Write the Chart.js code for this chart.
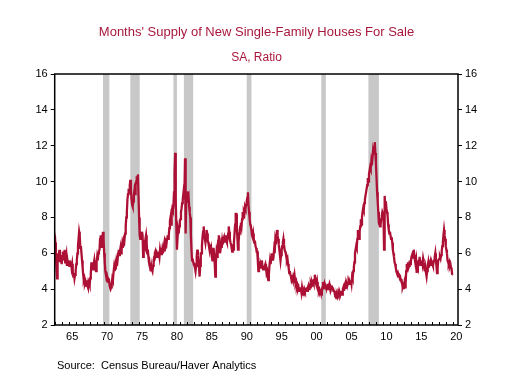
<!DOCTYPE html>
<html>
<head>
<meta charset="utf-8">
<script src="https://cdn.jsdelivr.net/npm/chart.js@4.4.0/dist/chart.umd.min.js"></script>
<style>
  html, body { margin: 0; padding: 0; background: #fff; }
  #wrap { width: 513px; height: 374px; }
</style>
</head>
<body>
<div id="wrap"><canvas id="supplyChart" width="513" height="374"></canvas></div>
<script>
// Months' supply, monthly from Jan 1963 (one row per year)
const startYear = 1963;
const supply = [
  6.4, 6.6, 6.0, 5.2, 4.6, 5.6, 6.0, 5.7, 6.2, 5.5, 5.9, 5.6,   // 1963
  5.4, 5.8, 6.1, 5.6, 5.9, 6.2, 5.5, 5.7, 5.9, 5.3, 5.6, 5.4,   // 1964
  5.5, 5.3, 5.6, 5.4, 5.5, 5.2, 5.4, 5.0, 4.7, 4.9, 4.6, 4.8,   // 1965
  5.0, 5.4, 5.6, 6.0, 6.4, 6.8, 7.2, 7.0, 6.3, 6.4, 6.0, 5.6,   // 1966
  5.2, 4.8, 4.5, 4.6, 4.3, 4.4, 4.2, 4.5, 4.2, 4.1, 4.4, 4.3,   // 1967
  4.2, 4.6, 4.8, 5.5, 5.2, 5.5, 5.1, 5.4, 5.6, 5.2, 5.5, 5.0,   // 1968
  5.5, 5.8, 5.6, 6.0, 6.1, 6.2, 6.8, 7.0, 6.5, 6.3, 6.9, 7.2,   // 1969
  6.8, 6.0, 5.5, 5.0, 4.8, 4.6, 4.7, 4.5, 4.4, 4.6, 4.3, 4.1,   // 1970
  4.0, 4.1, 4.3, 4.6, 4.5, 4.9, 5.2, 5.0, 5.3, 5.1, 5.5, 5.3,   // 1971
  5.6, 6.0, 6.2, 5.9, 6.1, 6.3, 6.0, 6.2, 6.5, 6.3, 6.6, 6.4,   // 1972
  6.8, 7.1, 7.5, 8.0, 8.3, 9.0, 9.3, 9.6, 9.4, 9.8, 10.1, 9.6,  // 1973
  9.0, 8.7, 8.6, 8.9, 9.2, 9.5, 9.3, 9.8, 10.0, 10.3, 10.1, 10.4, // 1974
  9.2, 8.0, 7.0, 6.8, 7.0, 6.9, 7.2, 7.0, 5.8, 6.3, 6.5, 6.4,   // 1975
  6.8, 7.0, 6.6, 6.0, 6.2, 5.8, 5.5, 5.3, 5.2, 5.0, 5.3, 5.1,   // 1976
  5.0, 5.3, 5.6, 5.8, 6.0, 6.1, 5.9, 6.0, 5.8, 6.1, 5.9, 6.0,   // 1977
  5.8, 6.2, 6.0, 6.3, 5.9, 6.2, 6.0, 6.3, 6.5, 6.1, 6.4, 6.6,   // 1978
  6.5, 6.8, 7.0, 6.8, 7.0, 7.4, 7.8, 8.0, 7.6, 8.3, 8.5, 8.4,   // 1979
  8.6, 9.4, 10.5, 11.6, 9.0, 7.5, 6.2, 6.8, 7.3, 7.1, 7.5, 7.8, // 1980
  7.9, 8.3, 8.5, 8.8, 9.0, 9.3, 9.0, 9.5, 11.3, 7.1, 9.0, 9.4,  // 1981
  9.4, 9.1, 9.2, 8.6, 8.3, 8.0, 7.0, 6.2, 5.6, 5.7, 5.5, 5.4,   // 1982
  5.4, 5.2, 5.0, 5.3, 5.8, 6.2, 5.9, 5.6, 5.2, 4.7, 5.3, 6.0,   // 1983
  6.0, 6.4, 6.9, 7.2, 7.5, 7.0, 6.8, 6.6, 6.9, 7.3, 7.1, 6.7,   // 1984
  6.6, 6.4, 6.2, 6.5, 6.0, 6.2, 5.8, 5.6, 5.9, 6.3, 5.9, 5.4,   // 1985
  4.7, 5.5, 6.0, 5.8, 6.4, 6.7, 7.0, 6.5, 6.0, 6.2, 6.5, 6.3,   // 1986
  6.7, 6.5, 6.8, 6.9, 6.6, 6.9, 7.0, 6.7, 6.6, 6.8, 7.1, 7.5,   // 1987
  7.2, 6.8, 6.6, 6.5, 6.3, 6.1, 6.4, 6.2, 6.6, 7.1, 7.6, 8.2,   // 1988
  8.2, 7.4, 6.8, 6.2, 6.6, 7.1, 7.3, 7.5, 7.7, 7.5, 7.9, 8.3,   // 1989
  8.0, 8.3, 8.2, 8.6, 8.5, 8.7, 8.9, 9.1, 9.4, 8.7, 8.3, 7.9,   // 1990
  7.6, 7.5, 7.3, 7.0, 6.9, 7.1, 6.8, 6.6, 6.7, 6.4, 6.3, 6.1,   // 1991
  6.1, 5.6, 5.0, 5.3, 5.4, 5.2, 5.4, 5.3, 5.6, 5.2, 5.1, 5.3,   // 1992
  5.1, 5.3, 5.4, 5.2, 4.9, 5.0, 4.7, 4.5, 4.8, 5.3, 5.6, 5.4,   // 1993
  5.7, 6.0, 5.8, 5.6, 5.8, 6.2, 6.0, 6.7, 6.5, 6.9, 7.3, 7.0,   // 1994
  6.8, 6.5, 6.2, 5.9, 5.6, 5.9, 6.2, 6.4, 6.6, 6.8, 6.5, 6.2,   // 1995
  6.1, 6.0, 5.8, 5.6, 5.7, 5.4, 5.2, 4.9, 5.0, 4.8, 4.7, 4.5,   // 1996
  4.6, 4.5, 4.7, 4.6, 4.8, 4.5, 4.3, 4.4, 4.1, 4.2, 4.0, 4.1,   // 1997
  3.9, 4.1, 3.9, 4.0, 3.8, 4.1, 3.9, 3.7, 3.8, 4.0, 3.9, 4.0,   // 1998
  4.0, 4.1, 3.9, 4.1, 4.2, 4.0, 4.3, 4.1, 4.3, 4.2, 4.4, 4.3,   // 1999
  4.4, 4.3, 4.5, 4.8, 4.6, 4.3, 4.2, 4.4, 4.1, 4.0, 3.9, 4.0,   // 2000
  3.9, 3.8, 3.7, 3.9, 4.1, 4.4, 4.2, 4.3, 4.0, 4.2, 4.1, 4.0,   // 2001
  4.1, 4.3, 4.0, 4.2, 4.3, 4.1, 3.9, 4.0, 4.2, 4.0, 4.1, 3.9,   // 2002
  3.9, 3.8, 3.6, 3.7, 3.5, 3.7, 3.6, 3.8, 3.7, 3.9, 3.8, 3.7,   // 2003
  3.8, 3.9, 3.7, 4.0, 4.1, 3.9, 4.2, 4.3, 4.0, 4.4, 4.3, 4.2,   // 2004
  4.3, 4.4, 4.3, 4.4, 4.3, 4.5, 4.3, 4.7, 4.6, 5.0, 5.2, 5.5,   // 2005
  6.0, 6.2, 6.4, 6.3, 6.8, 7.3, 7.0, 6.8, 7.2, 7.5, 7.9, 7.6,   // 2006
  8.0, 8.3, 8.5, 8.4, 8.8, 9.0, 9.2, 9.4, 9.4, 9.8, 10.2, 10.0, // 2007
  10.4, 10.6, 10.8, 10.7, 11.1, 10.9, 11.3, 11.7, 11.5, 11.9, 12.2, 11.6, // 2008
  11.0, 10.2, 9.4, 8.9, 8.3, 7.7, 7.6, 7.5, 7.6, 7.9, 8.1, 8.3, // 2009
  8.2, 8.0, 6.2, 9.2, 8.6, 8.9, 8.5, 8.3, 8.1, 7.6, 7.3, 7.1,   // 2010
  7.2, 7.0, 6.8, 6.9, 6.6, 6.2, 6.0, 5.8, 5.5, 5.4, 5.2, 5.0,   // 2011
  5.0, 4.8, 4.9, 4.8, 4.7, 4.8, 4.6, 4.5, 4.5, 4.3, 4.1, 4.2,   // 2012
  4.0, 4.3, 4.1, 4.3, 5.0, 5.4, 5.2, 5.5, 5.2, 5.3, 5.6, 5.4,   // 2013
  5.5, 5.8, 5.9, 5.7, 6.0, 6.2, 5.9, 5.6, 5.4, 5.6, 4.9, 5.3,   // 2014
  5.2, 5.4, 5.6, 5.8, 5.5, 5.3, 5.5, 5.6, 5.4, 5.7, 5.5, 5.2,   // 2015
  5.0, 5.2, 4.9, 4.7, 5.0, 5.3, 5.5, 5.2, 5.4, 5.5, 5.3, 5.6,   // 2016
  5.5, 5.4, 5.3, 5.5, 5.6, 5.8, 6.0, 5.6, 5.3, 4.9, 5.2, 5.6,   // 2017
  5.6, 5.7, 5.8, 5.7, 5.9, 6.1, 6.4, 6.6, 7.0, 7.3, 7.0, 6.8,   // 2018
  6.4, 6.2, 6.0, 5.6, 5.5, 5.4, 5.5, 5.3, 5.4, 5.2, 5.1, 4.8    // 2019
];

// NBER recessions, peak to trough (decimal years)
const recessions = [
  [1969.92, 1970.83],
  [1973.83, 1975.17],
  [1980.0, 1980.5],
  [1981.5, 1982.83],
  [1990.5, 1991.17],
  [2001.17, 2001.83],
  [2007.92, 2009.42]
];

const yTicks = [2, 4, 6, 8, 10, 12, 14, 16];
const xLabelYears = [1965, 1970, 1975, 1980, 1985, 1990, 1995, 2000, 2005, 2010, 2015, 2020];

const lineColor = '#AD1035';
const titleColor = '#A8183E';
const fontFamily = "'Liberation Sans', Arial, sans-serif";

const points = supply.map((v, i) => ({ x: startYear + i / 12, y: v }));

const chartDecor = {
  id: 'chartDecor',
  beforeDatasetsDraw(chart) {
    const { ctx, chartArea, scales } = chart;
    ctx.save();
    ctx.fillStyle = '#C8C8C8';
    recessions.forEach(([a, b]) => {
      const x1 = scales.x.getPixelForValue(a);
      const x2 = scales.x.getPixelForValue(b);
      ctx.fillRect(x1, chartArea.top, x2 - x1, chartArea.bottom - chartArea.top);
    });
    ctx.restore();
  },
  afterDraw(chart) {
    const { ctx, chartArea, scales } = chart;
    ctx.save();
    // frame
    ctx.strokeStyle = '#000';
    ctx.lineWidth = 1.5;
    ctx.strokeRect(chartArea.left, chartArea.top, chartArea.right - chartArea.left, chartArea.bottom - chartArea.top);
    // yearly minor ticks on bottom axis
    ctx.lineWidth = 1;
    ctx.beginPath();
    for (let yr = startYear; yr <= 2020; yr++) {
      const x = Math.round(scales.x.getPixelForValue(yr)) + 0.5;
      ctx.moveTo(x, chartArea.bottom);
      ctx.lineTo(x, chartArea.bottom - 3);
    }
    ctx.stroke();
    // source note
    ctx.fillStyle = '#000';
    ctx.font = '11px ' + fontFamily;
    ctx.textBaseline = 'middle';
    ctx.fillText('Source:  Census Bureau/Haver Analytics', 57, 366);
    ctx.restore();
  }
};

const yAxis = (pos, w) => ({
  position: pos,
  min: 2,
  max: 16,
  afterBuildTicks: s => { s.ticks = yTicks.map(v => ({ value: v })); },
  afterFit: s => { s.width = w; },
  ticks: { color: '#000', font: { size: 11, family: fontFamily }, padding: 3 },
  grid: { drawOnChartArea: false, drawTicks: true, tickLength: 4, color: '#000' },
  border: { display: false }
});

new Chart(document.getElementById('supplyChart'), {
  type: 'line',
  data: {
    datasets: [{
      data: points,
      borderColor: lineColor,
      borderWidth: 2.3,
      pointRadius: 0,
      tension: 0,
      fill: false
    }]
  },
  options: {
    responsive: false,
    animation: false,
    parsing: false,
    layout: { padding: { left: 0, right: 0, top: 0, bottom: 29 } },
    plugins: {
      legend: { display: false },
      tooltip: { enabled: false },
      title: {
        display: true,
        text: "Months' Supply of New Single-Family Houses For Sale",
        color: titleColor,
        font: { size: 13, family: fontFamily, weight: 'normal' },
        padding: { top: 25, bottom: 5 }
      },
      subtitle: {
        display: true,
        text: 'SA, Ratio',
        color: titleColor,
        font: { size: 12, family: fontFamily, weight: 'normal' },
        padding: { top: 5, bottom: 9 }
      }
    },
    scales: {
      x: {
        type: 'linear',
        min: startYear,
        max: 2020.75,
        afterBuildTicks: s => { s.ticks = xLabelYears.map(y => ({ value: y + 0.5 })); },
        afterFit: s => { s.height = 20; },
        ticks: {
          color: '#000',
          font: { size: 11, family: fontFamily },
          padding: 5,
          maxRotation: 0,
          autoSkip: false,
          callback: v => String(Math.floor(v) % 100).padStart(2, '0')
        },
        grid: { display: false, drawTicks: false },
        border: { display: false }
      },
      y: yAxis('left', 54.7),
      y2: yAxis('right', 55)
    }
  },
  plugins: [chartDecor]
});
</script>
</body>
</html>
